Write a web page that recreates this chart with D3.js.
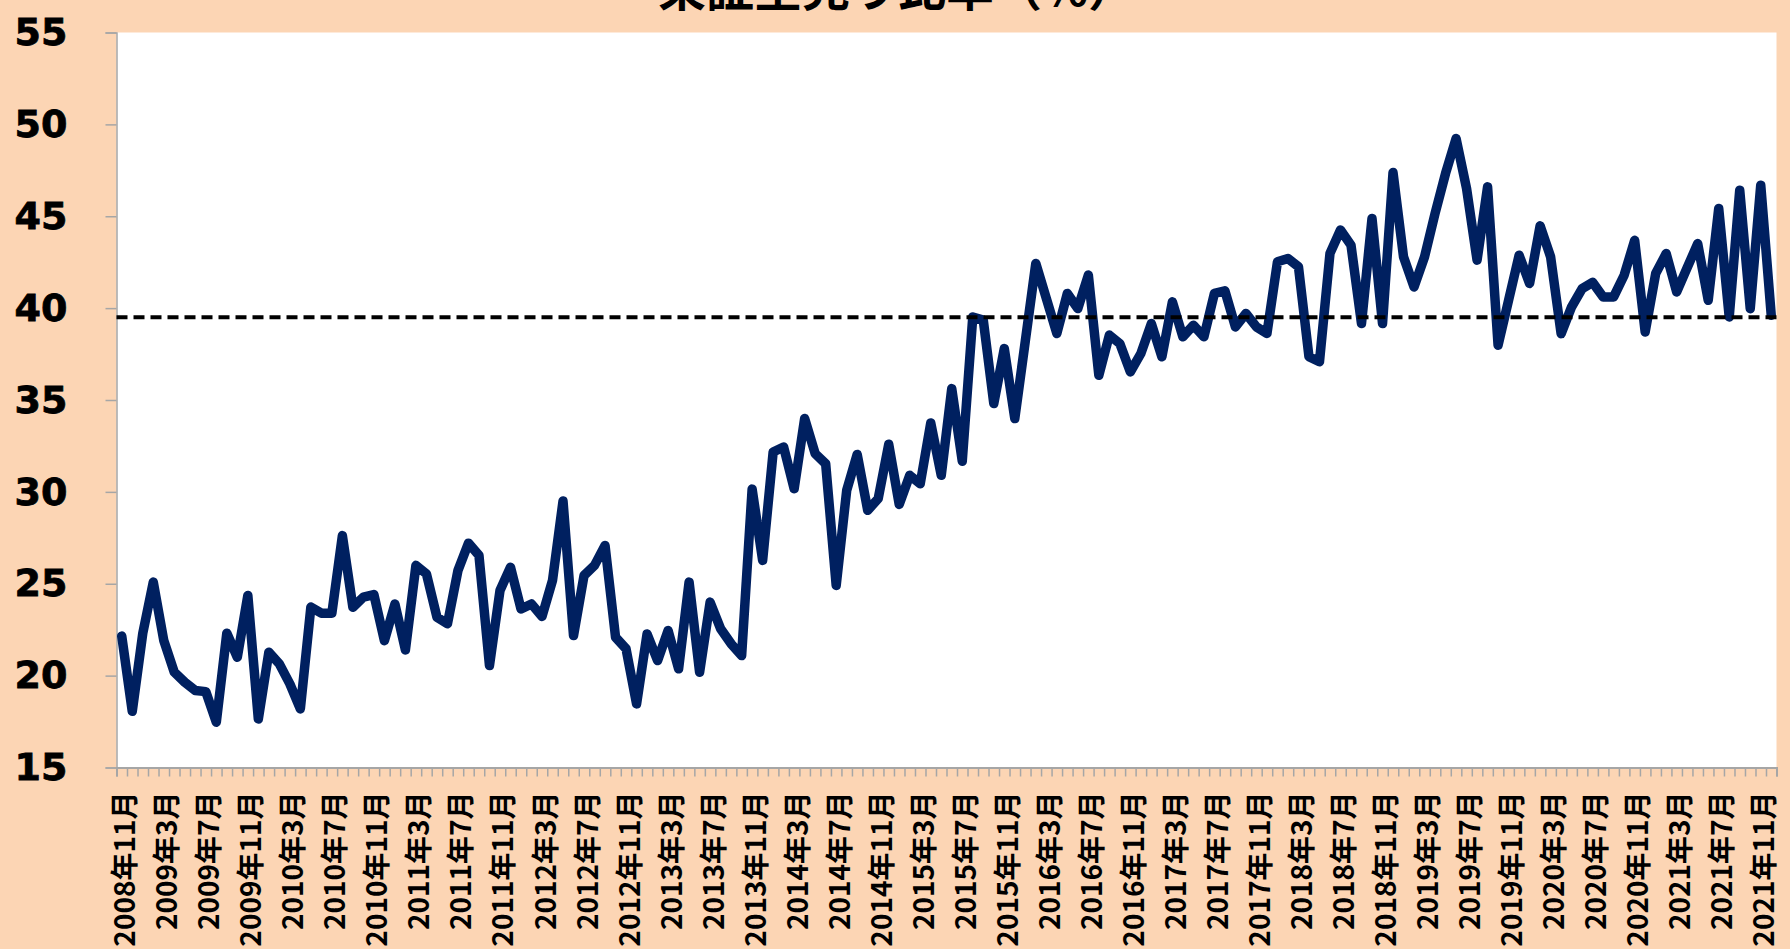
<!DOCTYPE html>
<html>
<head>
<meta charset="utf-8">
<script src="https://cdn.jsdelivr.net/npm/d3@7"></script>
<style>
    html, body { margin: 0; padding: 0; background: #fcd5b4; }
    svg { display: block; }
</style>
</head>
<body>
<svg id="chart-svg" width="1790" height="949"></svg>
<script>
const CHART_TITLE = '東証空売り比率（%）'
const FIRST_MONTH = new Date(2008, 10, 1)   // 2008年11月

// monthly short-selling ratio (%), 2008年11月 .. 2021年12月
const shortSellRatio = [
    22.15, 18.06, 22.3, 25.09, 21.91, 20.19, 19.64, 19.19, 19.13, 17.46, 22.31, 21.0,
    24.36, 17.64, 21.27, 20.64, 19.55, 18.19, 23.73, 23.4, 23.4, 27.62,
    23.72, 24.27, 24.41, 21.9, 23.9, 21.4, 26.0, 25.54, 23.18, 22.82, 25.72, 27.21,
    26.54, 20.55, 24.63, 25.9, 23.63, 23.9, 23.22,
    25.18, 29.5, 22.18, 25.45, 26.0, 27.08, 22.09, 21.46, 18.46, 22.27, 20.82, 22.45,
    20.37, 25.09, 20.18, 24.0, 22.55, 21.73, 21.09, 30.15,
    26.27, 32.17, 32.44, 30.17, 33.99, 32.08, 31.53, 24.91, 30.08, 32.04, 29.0, 29.63,
    32.59, 29.32, 30.9, 30.44, 33.75, 30.9, 35.62, 31.67, 39.52,
    39.35, 34.81, 37.8, 33.99, 38.2, 42.43, 40.53, 38.62, 40.8, 39.98, 41.8, 36.35,
    38.53, 38.07, 36.53, 37.53, 39.16, 37.35, 40.34, 38.44,
    39.07, 38.44, 40.8, 40.94, 38.98, 39.71, 38.98, 38.62, 42.52, 42.7, 42.25, 37.35,
    37.08, 42.98, 44.25, 43.43, 39.16, 44.88, 39.16, 47.38,
    42.79, 41.15, 42.79, 45.15, 47.33, 49.23, 46.51, 42.61, 46.6, 37.98, 40.43, 42.88,
    41.34, 44.48, 42.79, 38.61, 40.07, 41.06, 41.4, 40.61,
    40.61, 41.79, 43.69, 38.70, 41.88, 42.97, 40.88, 42.2, 43.51, 40.43, 45.42, 39.52,
    46.42, 39.97, 46.69, 39.61
]

const referenceLevel = 39.5
const yTickValues = [15, 20, 25, 30, 35, 40, 45, 50, 55]
const xTickLabels = [
    '2008年11月', '2009年3月', '2009年7月', '2009年11月', '2010年3月', '2010年7月',
    '2010年11月', '2011年3月', '2011年7月', '2011年11月', '2012年3月', '2012年7月',
    '2012年11月', '2013年3月', '2013年7月', '2013年11月', '2014年3月', '2014年7月',
    '2014年11月', '2015年3月', '2015年7月', '2015年11月', '2016年3月', '2016年7月',
    '2016年11月', '2017年3月', '2017年7月', '2017年11月', '2018年3月', '2018年7月',
    '2018年11月', '2019年3月', '2019年7月', '2019年11月', '2020年3月', '2020年7月',
    '2020年11月', '2021年3月', '2021年7月', '2021年11月'
]

const monthLabel = d => `${d.getFullYear()}年${d.getMonth() + 1}月`
const months = shortSellRatio.map((v, i) => monthLabel(d3.timeMonth.offset(FIRST_MONTH, i)))

displayChart()

function displayChart() {
    const svg = d3.select('#chart-svg')
    const width = 1790, height = 949

    const margin = { top: 32.5, right: 13.5, bottom: 181.5, left: 116.5 }
    const contentWidth = width - margin.left - margin.right
    const contentHeight = height - margin.top - margin.bottom

    svg.append('rect')
        .attr('width', width)
        .attr('height', height)
        .attr('fill', '#fcd5b4')

    const g = svg.append('g')
        .attr('transform', `translate(${margin.left},${margin.top})`)

    // white plot area
    g.append('rect')
        .attr('width', contentWidth)
        .attr('height', contentHeight)
        .attr('fill', '#ffffff')

    // scales
    const x = d3.scaleBand()
        .domain(months)
        .range([0, contentWidth])
        .padding(0)

    const xEdges = d3.scaleLinear()
        .domain([0, months.length])
        .range([0, contentWidth])

    const y = d3.scaleLinear()
        .domain([15, 55])
        .range([contentHeight, 0])

    // title (cut off at the top like the original)
    svg.append('text')
        .attr('x', 897)
        .attr('y', 6)
        .attr('text-anchor', 'middle')
        .style('font-family', '"Noto Sans CJK JP", sans-serif')
        .style('font-weight', 700)
        .style('font-size', '48px')
        .text(CHART_TITLE)

    // y axis
    const yAxis = g.append('g')
        .call(d3.axisLeft(y).tickValues(yTickValues).tickSize(11).tickPadding(38))
    yAxis.select('.domain').attr('stroke', '#a6a6a6').attr('stroke-width', 1.5)
    yAxis.selectAll('.tick line').attr('stroke', '#a6a6a6').attr('stroke-width', 1.5)
    yAxis.selectAll('.tick text')
        .style('font-family', '"DejaVu Sans", Verdana, sans-serif')
        .style('font-weight', 700)
        .style('font-size', '38px')
        .style('stroke', '#000')
        .style('stroke-width', 0.8)
        .attr('fill', '#000')

    // x axis: a small tick at every month boundary
    const xMinor = g.append('g')
        .attr('transform', `translate(0,${contentHeight})`)
        .call(d3.axisBottom(xEdges).tickValues(d3.range(months.length + 1)).tickSize(9).tickFormat(''))
    xMinor.select('.domain').attr('stroke', '#a6a6a6').attr('stroke-width', 2)
    xMinor.selectAll('.tick line').attr('stroke', '#a6a6a6').attr('stroke-width', 1.5)

    // x labels every 4 months, rotated
    const xLabels = g.append('g')
        .attr('transform', `translate(0,${contentHeight})`)
        .call(d3.axisBottom(x).tickValues(months.filter(m => xTickLabels.includes(m))).tickSize(0))
    xLabels.select('.domain').remove()
    xLabels.selectAll('.tick text')
        .attr('transform', 'rotate(-90)')
        .attr('x', -24)
        .attr('y', 0)
        .attr('dy', 13.5)
        .style('text-anchor', 'end')
        .style('font-family', '"Noto Sans CJK JP", sans-serif')
        .style('font-weight', 700)
        .style('font-size', '28px')
        .attr('fill', '#000')

    // ratio line
    const line = d3.line()
        .x((d, i) => x(months[i]) + x.bandwidth() / 2)
        .y(d => y(d))

    g.append('path')
        .datum(shortSellRatio)
        .attr('fill', 'none')
        .attr('stroke', '#002060')
        .attr('stroke-width', 9.5)
        .attr('stroke-linejoin', 'round')
        .attr('stroke-linecap', 'round')
        .attr('d', line)

    // dashed reference level
    g.append('line')
        .attr('x1', 0)
        .attr('x2', contentWidth)
        .attr('y1', y(referenceLevel))
        .attr('y2', y(referenceLevel))
        .attr('stroke', '#000')
        .attr('stroke-width', 4)
        .attr('stroke-dasharray', '11,6')
}
</script>
</body>
</html>
